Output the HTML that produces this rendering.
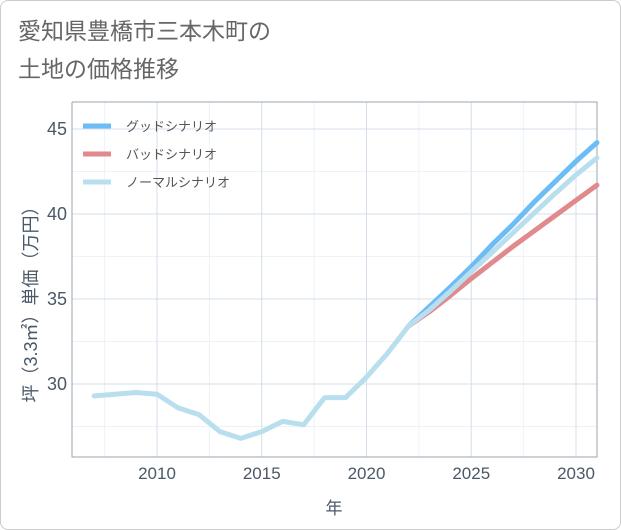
<!DOCTYPE html>
<html><head><meta charset="utf-8"><style>
body{margin:0;background:#fff;}
#wrap{position:relative;width:619px;height:528px;border:1px solid #ccc;border-radius:8px;overflow:hidden;font-family:"Liberation Sans","Noto Sans CJK JP",sans-serif;}
.title{position:absolute;left:17px;font-size:23px;color:#666;line-height:1;}
</style></head><body>
<div id="wrap">
<div class="title" style="top:19px">愛知県豊橋市三本木町の</div>
<div class="title" style="top:57px">土地の価格推移</div>
<svg id="chart" width="621" height="530" style="position:absolute;left:-1px;top:-1px"></svg>
</div>
<script>
const histYears=[2007,2008,2009,2010,2011,2012,2013,2014,2015,2016,2017,2018,2019,2020,2021,2022];
const histValues=[29.3,29.4,29.5,29.4,28.6,28.2,27.2,26.8,27.2,27.8,27.6,29.2,29.2,30.4,31.8,33.4];
const futYears=[2022,2023,2024,2025,2026,2027,2028,2029,2030,2031];
const goodValues=[33.4,34.55,35.7,36.9,38.2,39.4,40.7,41.9,43.1,44.2];
const normalValues=[33.4,34.35,35.45,36.6,37.75,38.9,40.05,41.2,42.3,43.3];
const badValues=[33.4,34.25,35.2,36.2,37.15,38.1,39.0,39.9,40.8,41.7];
const xTicks=[2010,2015,2020,2025,2030];
const yTicks=[30,35,40,45];
const legendLabels=['グッドシナリオ','バッドシナリオ','ノーマルシナリオ'];

const NS='http://www.w3.org/2000/svg';
const svg=document.getElementById('chart');
const L=72,R=597,T=102,B=457;
const x=y=>157+(y-2010)*20.95;
const yv=v=>384-(v-30)*17;
function mk(t,a){const e=document.createElementNS(NS,t);for(const k in a)e.setAttribute(k,a[k]);svg.appendChild(e);return e;}
for(let yr=2007.5;yr<2031;yr+=2.5){if(xTicks.includes(yr))continue;const g=mk('line',{x1:x(yr),x2:x(yr),y1:T,y2:B,stroke:'#eef2f6','stroke-width':1});

}
for(let v=27.5;v<46;v+=5){const g=mk('line',{x1:L,x2:R,y1:yv(v),y2:yv(v),stroke:'#eef2f6','stroke-width':1});

}
xTicks.forEach(t=>{const g=mk('line',{x1:x(t),x2:x(t),y1:T,y2:B,stroke:'#d3dfe9','stroke-width':1});


const tx=mk('text',{x:x(t),y:479,'text-anchor':'middle','font-size':17,fill:'#4a5868'});tx.textContent=t;

});
yTicks.forEach(t=>{const g=mk('line',{x1:L,x2:R,y1:yv(t),y2:yv(t),stroke:'#d3dfe9','stroke-width':1});


const tx=mk('text',{x:67,y:yv(t)+6,'text-anchor':'end','font-size':18,fill:'#4a5868'});tx.textContent=t;

});
const ax=mk('path',{d:`M${L},${T}V${B}H${R}V${T}H${L}`,fill:'none',stroke:'#9aa6b2','stroke-width':1});


function line(xs,vs,c,name){const p=mk('polyline',{points:xs.map((yr,i)=>x(yr)+','+yv(vs[i])).join(' '),fill:'none',stroke:c,'stroke-width':5,'stroke-linejoin':'round','stroke-linecap':'round'});

}
line(futYears,badValues,'#e08a8e','bad-scenario-line');
line(futYears,goodValues,'#6cbdf5','good-scenario-line');
line(futYears,normalValues,'#b9dfee','normal-scenario-line');
line(histYears,histValues,'#b9dfee','historical-line');
const cols=['#6cbdf5','#e08a8e','#b9dfee'];
legendLabels.forEach((lab,i)=>{const yy=126+i*28;
const s=mk('line',{x1:83,x2:111,y1:yy,y2:yy,stroke:cols[i],'stroke-width':5});


const t=mk('text',{x:126,y:yy+5,'font-size':13,fill:'#555'});t.textContent=lab;

});
const xt=mk('text',{x:334,y:514,'text-anchor':'middle','font-size':17,fill:'#4a5868'});xt.textContent='年';


const yt=mk('text',{x:0,y:0,'text-anchor':'middle','font-size':18,fill:'#4a5868',transform:'translate(37,300) rotate(-90)'});yt.textContent='坪（3.3㎡）単価（万円）';


</script>
</body></html>
